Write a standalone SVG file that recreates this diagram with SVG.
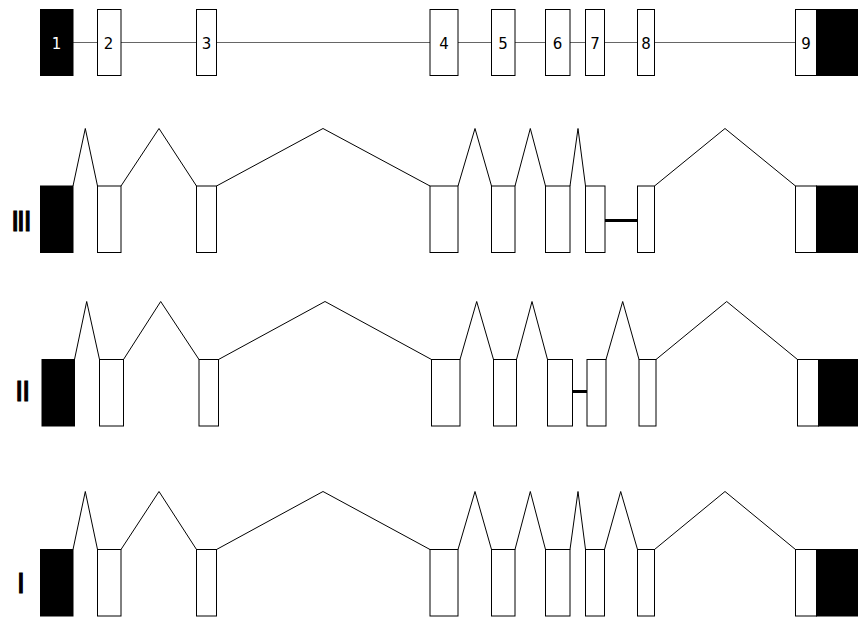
<svg xmlns="http://www.w3.org/2000/svg" width="858" height="617" viewBox="0 0 858 617">
<style>
.ex{fill:#fff;stroke:#000;stroke-width:1}
.utr{fill:#000;stroke:#000;stroke-width:1}
.num{font-family:"DejaVu Sans",sans-serif;font-size:15px;text-anchor:middle;fill:#000}
.lbl{font-family:"Liberation Sans",Arial,sans-serif;font-size:30px;fill:#000;stroke:#000;stroke-width:1}
.gl{stroke:#666;stroke-width:1;fill:none}
.in{stroke:#000;stroke-width:1;fill:none;stroke-linejoin:miter}
.sk{stroke:#000;stroke-width:3}
</style>
<rect width="858" height="617" fill="#fff"/>

<g id="connectors">
  <path class="gl" d="M73 42.5H97.5M121 42.5H196.5M216.5 42.5H430M458 42.5H491.5M515 42.5H545.5M570 42.5H585.5M604.5 42.5H637.5M654.5 42.5H795.5"/>
  <!-- row III -->
  <path class="in" d="M73 186L85.3 128.5L97.5 186M121 186L159 128.5L196.5 186M216.5 186L323 128.5L430 186M458 186L475 128.5L491.5 186M515 186L530.3 128.5L545.5 186M570 186L578 128.5L585.5 186M654.5 186L725 128.5L795.5 186"/>
  <line class="sk" x1="605" y1="220.5" x2="637.5" y2="220.5"/>
  <!-- row II -->
  <path class="in" d="M74.5 359.5L86.7 301.5L99.5 359.5M123.5 359.5L160.7 301.5L199 359.5M218.5 359.5L325 301.5L431.5 359.5M460 359.5L476.7 301.5L493.5 359.5M516.5 359.5L532 301.5L547.5 359.5M606 359.5L622.7 301.5L639 359.5M656 359.5L726.7 301.5L797.5 359.5"/>
  <line class="sk" x1="572.5" y1="391.5" x2="587" y2="391.5"/>
  <!-- row I -->
  <path class="in" d="M73 549.5L85.3 491.5L97.5 549.5M121 549.5L159 491.5L196.5 549.5M216.5 549.5L323 491.5L430 549.5M458 549.5L475 491.5L491.5 549.5M515 549.5L530.3 491.5L545.5 549.5M570 549.5L578 491.5L585.5 549.5M604.5 549.5L620.7 491.5L637.5 549.5M654.5 549.5L725 491.5L795.5 549.5"/>
</g>

<g id="gene">
  <g id="e1"><rect class="utr" x="40.5" y="9.5" width="32.5" height="66"/><text class="num" x="56.5" y="49" style="fill:#fff">1</text></g>
  <g id="e2"><rect class="ex" x="97.5" y="9.5" width="23.5" height="66"/><text class="num" x="108.5" y="49">2</text></g>
  <g id="e3"><rect class="ex" x="196.5" y="9.5" width="20" height="66"/><text class="num" x="206.5" y="49">3</text></g>
  <g id="e4"><rect class="ex" x="430" y="9.5" width="28" height="66"/><text class="num" x="444" y="49">4</text></g>
  <g id="e5"><rect class="ex" x="491.5" y="9.5" width="23.5" height="66"/><text class="num" x="503" y="49">5</text></g>
  <g id="e6"><rect class="ex" x="545.5" y="9.5" width="24.5" height="66"/><text class="num" x="557.5" y="49">6</text></g>
  <g id="e7"><rect class="ex" x="585.5" y="9.5" width="19" height="66"/><text class="num" x="595" y="49">7</text></g>
  <g id="e8"><rect class="ex" x="637.5" y="9.5" width="17" height="66"/><text class="num" x="646" y="49">8</text></g>
  <g id="e9"><rect class="ex" x="795.5" y="9.5" width="21" height="66"/><rect class="utr" x="816.5" y="9.5" width="41" height="66"/><text class="num" x="806" y="49">9</text></g>
</g>

<g id="isoformIII">
  <text class="lbl" x="11 16.8 23.4" y="230.7">III</text>
  <rect class="utr" x="40.5" y="186" width="32.5" height="66.5"/>
  <rect class="ex" x="97.5" y="186" width="23.5" height="66.5"/>
  <rect class="ex" x="196.5" y="186" width="20" height="66.5"/>
  <rect class="ex" x="430" y="186" width="28" height="66.5"/>
  <rect class="ex" x="491.5" y="186" width="23.5" height="66.5"/>
  <rect class="ex" x="545.5" y="186" width="24.5" height="66.5"/>
  <rect class="ex" x="585.5" y="186" width="19.5" height="66.5"/>
  <rect class="ex" x="637.5" y="186" width="17" height="66.5"/>
  <rect class="ex" x="795.5" y="186" width="21" height="66.5"/>
  <rect class="utr" x="816.5" y="186" width="41" height="66.5"/>
</g>

<g id="isoformII">
  <text class="lbl" x="15 22" y="400.7">II</text>
  <rect class="utr" x="42" y="359.5" width="32.5" height="66.5"/>
  <rect class="ex" x="99.5" y="359.5" width="24" height="66.5"/>
  <rect class="ex" x="199" y="359.5" width="19.5" height="66.5"/>
  <rect class="ex" x="431.5" y="359.5" width="28.5" height="66.5"/>
  <rect class="ex" x="493.5" y="359.5" width="23" height="66.5"/>
  <rect class="ex" x="547.5" y="359.5" width="25" height="66.5"/>
  <rect class="ex" x="587" y="359.5" width="19" height="66.5"/>
  <rect class="ex" x="639" y="359.5" width="17" height="66.5"/>
  <rect class="ex" x="797.5" y="359.5" width="21" height="66.5"/>
  <rect class="utr" x="818.5" y="359.5" width="39.5" height="66.5"/>
</g>

<g id="isoformI">
  <text class="lbl" x="16.7" y="593.3">I</text>
  <rect class="utr" x="40.5" y="549.5" width="32.5" height="66.5"/>
  <rect class="ex" x="97.5" y="549.5" width="23.5" height="66.5"/>
  <rect class="ex" x="196.5" y="549.5" width="20" height="66.5"/>
  <rect class="ex" x="430" y="549.5" width="28" height="66.5"/>
  <rect class="ex" x="491.5" y="549.5" width="23.5" height="66.5"/>
  <rect class="ex" x="545.5" y="549.5" width="24.5" height="66.5"/>
  <rect class="ex" x="585.5" y="549.5" width="19" height="66.5"/>
  <rect class="ex" x="637.5" y="549.5" width="17" height="66.5"/>
  <rect class="ex" x="795.5" y="549.5" width="21" height="66.5"/>
  <rect class="utr" x="816.5" y="549.5" width="41" height="66.5"/>
</g>
</svg>
